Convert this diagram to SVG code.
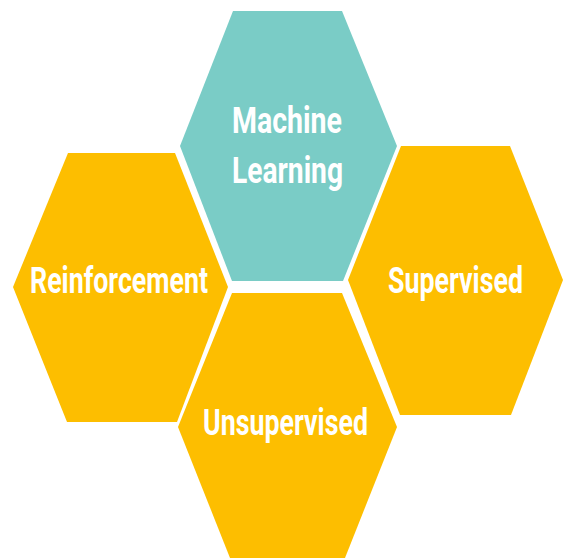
<svg xmlns="http://www.w3.org/2000/svg" width="564" height="558" viewBox="0 0 564 558">
  <style>
    .hex-core { fill: #7accc6; }
    .hex-branch { fill: #fdbe00; }
    .label { font-family: "Roboto", "Liberation Sans", sans-serif; font-weight: bold; font-size: 37px; fill: #ffffff; lengthAdjust: spacingAndGlyphs; }
  </style>
  <rect width="564" height="558" fill="#ffffff"/>

  <g id="machine-learning">
    <polygon class="hex-core" points="233,11 342,11 397,146 343,281 232,281 180,146"/>
    <text class="label" x="232" y="133" textLength="110" lengthAdjust="spacingAndGlyphs">Machine</text>
    <text class="label" x="232" y="183" textLength="111" lengthAdjust="spacingAndGlyphs">Learning</text>
  </g>

  <g id="reinforcement">
    <polygon class="hex-branch" points="68,153 175,153 228,287 177,422 67,422 13,287"/>
    <text class="label" x="30" y="293" textLength="178" lengthAdjust="spacingAndGlyphs">Reinforcement</text>
  </g>

  <g id="supervised">
    <polygon class="hex-branch" points="401,146 510,146 563,280 511,415 400,415 348,280"/>
    <text class="label" x="388" y="293" textLength="135" lengthAdjust="spacingAndGlyphs">Supervised</text>
  </g>

  <g id="unsupervised">
    <polygon class="hex-branch" points="232,293 342,293 397,427 343,563 232,563 178,427"/>
    <text class="label" x="203" y="435" textLength="165" lengthAdjust="spacingAndGlyphs">Unsupervised</text>
  </g>

  <g id="connectors"/>
</svg>
